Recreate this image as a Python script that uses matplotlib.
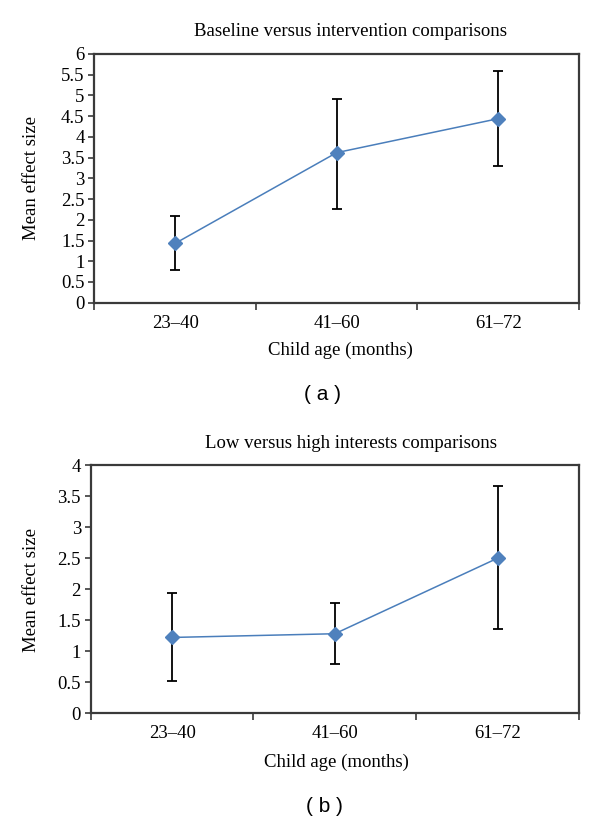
import matplotlib
matplotlib.use("Agg")
import matplotlib.pyplot as plt
import numpy as np

categories = ["23\u201340", "41\u201360", "61\u201372"]

a_mean = [1.43, 3.62, 4.44]
a_upper = [2.09, 4.92, 5.60]
a_lower = [0.79, 2.26, 3.30]
a_yticks = [0, 0.5, 1, 1.5, 2, 2.5, 3, 3.5, 4, 4.5, 5, 5.5, 6]

b_mean = [1.22, 1.28, 2.50]
b_upper = [1.93, 1.77, 3.66]
b_lower = [0.51, 0.79, 1.36]
b_yticks = [0, 0.5, 1, 1.5, 2, 2.5, 3, 3.5, 4]

title_a = "Baseline versus intervention comparisons"
title_b = "Low versus high interests comparisons"
xlabel = "Child age (months)"
ylabel = "Mean effect size"

SERIF = ["Liberation Serif", "DejaVu Serif"]
SANS = ["Liberation Sans", "DejaVu Sans"]
LINE = "#4A7EBB"
MARK = "#4F81BD"
SPINE = "#3a3a3a"
FS = 13.5

fig = plt.figure(figsize=(6.0, 8.23), dpi=100)

def fmt(v):
    return ("%g" % v)

def panel(rect, mean, upper, lower, yticks, ymax):
    ax = fig.add_axes(rect)
    x = np.arange(len(categories))
    mean = np.array(mean); upper = np.array(upper); lower = np.array(lower)
    yerr = np.vstack([mean - lower, upper - mean])
    ax.errorbar(x, mean, yerr=yerr, fmt="none", ecolor="black", elinewidth=1.3,
                capsize=3.5, capthick=1.3, zorder=2)
    ax.plot(x, mean, color=LINE, lw=1.1, marker="D", markersize=7.5,
            markerfacecolor=MARK, markeredgecolor=MARK, zorder=3)
    ax.set_xlim(-0.5, len(categories) - 0.5)
    ax.set_ylim(0, ymax)
    ax.set_yticks(yticks)
    ax.set_yticklabels([fmt(v) for v in yticks], fontfamily=SERIF, fontsize=FS)
    ax.set_xticks(np.arange(-0.5, len(categories), 1.0))
    ax.set_xticklabels([])
    ax.set_xticks(x, minor=True)
    ax.set_xticklabels(categories, minor=True, fontfamily=SERIF, fontsize=FS)
    ax.tick_params(axis="x", which="major", direction="out", length=5, width=1.2, color=SPINE)
    ax.tick_params(axis="x", which="minor", length=0, pad=9)
    ax.tick_params(axis="y", direction="out", length=4, width=1.2, color=SPINE, pad=3)
    for s in ax.spines.values():
        s.set_color(SPINE)
        s.set_linewidth(1.6)
    return ax

panel([94.3/600, 1-302.7/823, (579-94.3)/600, (302.7-54)/823], a_mean, a_upper, a_lower, a_yticks, 6)
panel([90.7/600, 1-713/823, (579-90.7)/600, (713-465.3)/823], b_mean, b_upper, b_lower, b_yticks, 4)

fig.text(351/600, 1-32/823, title_a, ha="center", va="center", fontfamily=SERIF, fontsize=FS)
fig.text(351/600, 1-443/823, title_b, ha="center", va="center", fontfamily=SERIF, fontsize=FS)
fig.text(340/600, 1-350/823, xlabel, ha="center", va="center", fontfamily=SERIF, fontsize=FS)
fig.text(336/600, 1-762/823, xlabel, ha="center", va="center", fontfamily=SERIF, fontsize=FS)
fig.text(31/600, 1-178/823, ylabel, ha="center", va="center", rotation=90, fontfamily=SERIF, fontsize=FS)
fig.text(31/600, 1-590/823, ylabel, ha="center", va="center", rotation=90, fontfamily=SERIF, fontsize=FS)
fig.text(322/600, 1-395/823, "( a )", ha="center", va="center", fontfamily=SANS, fontsize=15)
fig.text(324/600, 1-807/823, "( b )", ha="center", va="center", fontfamily=SANS, fontsize=15)

fig.savefig("out.png", dpi=100)
